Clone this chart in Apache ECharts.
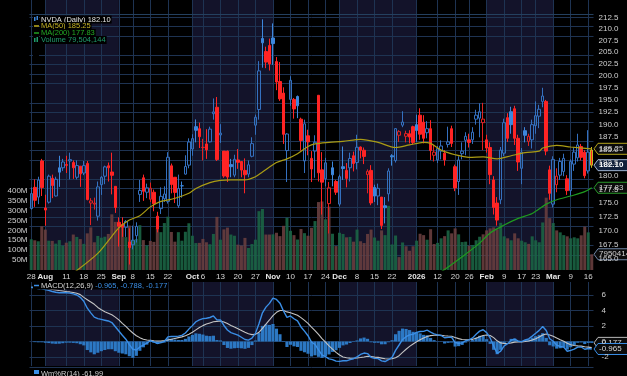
<!DOCTYPE html>
<html><head><meta charset="utf-8">
<script src="https://cdn.jsdelivr.net/npm/echarts@6/dist/echarts.min.js"></script>
<style>html,body{margin:0;padding:0;background:#000;}#c{width:627px;height:376px;}</style>
</head><body><div id="c"></div>
<script>
// ---------- DATA ----------
const tradingMonths = [
 ['2025-07', [28,29,30,31]],
 ['2025-08', [1,4,5,6,7,8,11,12,13,14,15,18,19,20,21,22,25,26,27,28,29]],
 ['2025-09', [2,3,4,5,8,9,10,11,12,15,16,17,18,19,22,23,24,25,26,29,30]],
 ['2025-10', [1,2,3,6,7,8,9,10,13,14,15,16,17,20,21,22,23,24,27,28,29,30,31]],
 ['2025-11', [3,4,5,6,7,10,11,12,13,14,17,18,19,20,21,24,25,26,28]],
 ['2025-12', [1,2,3,4,5,8,9,10,11,12,15,16,17,18,19,22,23,24,26,29,30,31]],
 ['2026-01', [2,5,6,7,8,9,12,13,14,15,16,20,21,22,23,26,27,28,29,30]],
 ['2026-02', [2,3,4,5,6,9,10,11,12,13,17,18,19,20,23,24,25,26,27]],
 ['2026-03', [2,3,4,5,6,9,10,11,12,13,16,17]]
];
const dateTicks = [['2025-07-28','28'],['2025-08-01','Aug'],['2025-08-11','11'],['2025-08-18','18'],['2025-08-25','25'],['2025-09-02','Sep'],['2025-09-08','8'],['2025-09-15','15'],['2025-09-22','22'],['2025-10-01','Oct'],['2025-10-06','6'],['2025-10-13','13'],['2025-10-20','20'],['2025-10-27','27'],['2025-11-03','Nov'],['2025-11-10','10'],['2025-11-17','17'],['2025-11-24','24'],['2025-12-01','Dec'],['2025-12-08','8'],['2025-12-15','15'],['2025-12-22','22'],['2026-01-02','2026'],['2026-01-12','12'],['2026-01-20','20'],['2026-01-26','26'],['2026-02-02','Feb'],['2026-02-09','9'],['2026-02-17','17'],['2026-02-23','23'],['2026-03-02','Mar'],['2026-03-09','9'],['2026-03-16','16']];
const shadedMonths = [['2025-08-01','2025-09-02'],['2025-10-01','2025-11-03'],['2025-12-01','2026-01-02'],['2026-02-02','2026-03-02']];
const priceTicks = [165,167.5,170,172.5,175,177.5,180,182.5,185,187.5,190,192.5,195,197.5,200,202.5,205,207.5,210,212.5];
const volumeTicks = [50,100,150,200,250,300,350,400];
const macdTicks = [-2,0,2,4,6];

const open = [174.0,177.9,176.1,182.9,174.09,175.16,179.6,176.3,181.6,181.6,182.2,182.9,182.6,179.8,181.9,180.6,182.43,175.0,174.8,172.6,178.4,180.0,181.98,180.8,178.1,171.5,171.1,170.6,168.0,167.5,169.1,176.6,179.7,177.0,175.7,177.0,172.6,173.98,175.8,175.3,181.97,179.8,174.5,178.2,180.4,182.1,185.2,189.6,189.2,185.5,186.2,186.6,192.2,193.5,187.97,184.8,184.8,182.2,180.2,183.1,182.8,181.1,180.4,183.8,189.9,193.05,207.98,205.15,206.45,208.08,203.0,198.8,196.4,184.9,195.1,195.1,195.7,191.1,182.9,187.8,183.4,184.8,195.95,181.2,179.5,174.9,181.6,179.0,174.8,181.8,181.1,181.6,183.9,182.6,185.6,184.97,180.3,181.1,177.9,176.3,176.1,174.5,176.7,183.9,182.97,187.9,189.9,187.7,188.2,189.6,190.0,191.9,190.5,188.4,189.2,184.0,183.1,184.8,184.4,186.1,189.2,181.8,179.0,184.3,186.9,187.0,187.0,191.1,191.3,190.4,187.0,185.5,179.3,175.0,175.6,184.4,191.4,192.6,193.2,187.3,181.5,188.8,186.7,187.0,189.8,191.7,194.7,194.7,181.2,174.8,178.4,180.2,180.9,179.5,177.3,182.3,183.5,185.7,184.6,181.0,185.0];
const close = [176.75,175.51,179.27,177.87,173.72,180.00,178.26,179.42,180.77,182.70,182.06,183.16,181.59,182.02,180.45,182.01,175.64,175.40,174.98,177.99,179.81,181.77,181.60,180.17,174.18,170.78,170.62,171.66,167.02,168.31,170.76,177.33,177.17,177.82,177.75,174.88,170.29,176.24,176.67,183.61,178.43,176.97,177.69,178.19,181.85,186.58,187.24,188.89,187.62,185.54,185.04,189.11,192.57,183.16,188.32,180.03,179.83,181.81,183.22,182.64,181.16,180.28,182.16,186.26,191.49,201.03,207.04,202.89,202.49,206.88,198.69,195.21,188.08,188.15,199.05,193.16,193.80,186.86,190.17,186.60,181.36,186.52,180.64,178.88,182.55,177.82,180.26,177.00,179.92,181.46,179.59,183.38,182.41,185.55,184.97,183.78,180.93,175.02,176.29,177.72,170.94,174.14,180.99,183.69,189.21,188.61,190.53,188.22,187.54,186.50,188.85,188.1,187.3,189.2,184.9,184.6,185.3,185.8,183.1,186.6,186.3,177.8,183.1,184.8,187.7,186.5,188.5,191.9,192.6,191.1,185.4,180.3,174.2,171.9,185.0,190.4,187.3,190.0,187.3,182.7,184.6,187.9,187.7,190.0,191.8,193.1,195.8,184.8,176.8,183.2,180.0,182.8,183.4,177.3,182.8,184.6,186.0,183.6,180.1,184.6,182.10];
const low = [173.8,174.3,174.8,176.3,170.89,174.9,175.9,176.2,178.0,181.0,180.6,179.4,179.5,179.4,178.0,180.2,175.5,171.0,173.8,171.8,176.5,178.5,179.0,176.6,173.2,167.2,168.9,168.9,164.07,166.7,167.9,175.2,175.4,175.9,175.2,173.5,169.7,173.0,175.2,174.9,176.8,175.0,174.1,176.0,180.3,181.5,183.9,186.5,185.4,183.0,183.3,186.5,191.0,182.9,186.4,179.7,178.9,179.8,179.8,181.4,179.8,176.8,179.8,183.6,188.0,191.0,201.7,201.6,201.1,202.3,197.0,194.8,186.2,178.9,193.8,191.2,191.3,184.9,180.6,184.0,178.9,179.7,179.0,172.9,178.1,169.5,178.1,176.5,174.4,179.3,177.9,179.0,180.9,181.3,183.4,182.3,176.8,174.6,175.2,174.6,170.3,171.3,175.3,182.0,182.6,186.6,189.5,186.5,186.3,186.1,186.6,187.0,186.3,187.3,183.1,182.8,182.5,183.2,182.0,185.5,185.6,177.2,176.5,183.2,184.0,185.5,186.2,190.0,187.5,185.0,184.5,178.5,172.9,170.9,174.8,183.8,186.6,188.2,186.0,181.0,178.5,186.5,185.8,185.3,188.2,189.3,193.5,184.0,175.6,174.2,177.0,179.3,180.0,176.5,176.3,181.0,182.8,183.0,179.6,180.5,181.6];
const high = [177.9,179.4,179.9,183.3,176.54,180.3,180.3,179.9,183.9,183.3,183.9,184.5,183.0,183.0,181.9,182.9,182.9,175.9,176.0,179.0,180.0,182.0,182.6,184.5,178.1,172.4,172.4,171.9,170.4,170.9,171.5,179.3,180.3,178.6,178.8,177.5,173.4,177.9,178.1,184.6,182.4,179.8,180.3,179.0,184.0,187.3,188.1,191.05,190.4,187.2,189.1,189.6,195.3,195.6,190.1,184.8,184.9,183.3,184.1,185.2,182.8,183.4,183.0,187.5,192.0,203.1,212.2,206.2,207.95,211.3,203.97,202.9,197.6,188.3,199.9,195.4,195.9,191.4,191.0,189.0,184.8,187.9,196.0,184.6,183.5,178.9,182.8,179.3,180.3,185.7,182.5,184.5,184.7,188.0,185.7,185.5,181.3,182.1,178.4,178.6,176.1,176.1,181.5,184.2,189.3,188.9,192.7,188.8,188.9,189.8,192.0,193.3,191.9,190.7,190.9,186.0,185.8,186.9,185.0,189.6,189.8,182.2,183.8,186.5,188.5,188.2,189.5,193.0,194.3,194.4,188.0,186.5,180.0,176.1,185.6,191.2,192.3,193.6,193.8,188.0,185.4,189.5,188.2,191.0,194.7,194.0,197.5,195.0,182.0,183.8,181.5,183.5,184.3,180.2,183.2,185.5,188.2,186.2,185.0,188.9,185.6];
// volume in millions
const volume = [155,150,145,221,204,148,147,133,151,123,138,145,179,167,156,132,185,215,140,172,163,168,182,281,243,231,223,166,224,151,157,226,151,124,147,142,211,191,237,269,192,143,191,148,193,236,173,136,137,157,140,130,182,268,153,205,214,179,173,128,124,162,111,131,153,297,308,179,179,180,188,171,223,264,198,176,154,207,186,173,213,247,343,346,256,320,183,121,188,182,165,167,143,204,145,136,182,204,164,148,200,176,324,129,174,65,139,120,97,120,148,183,176,153,206,131,137,160,171,200,185,210,180,141,143,123,126,150,168,180,200,210,215,205,238,170,160,150,185,160,148,140,132,170,150,140,240,365,262,237,200,190,176,170,160,165,160,175,219,190,79.504144];
// moving averages read at sample days [dayIndex, value]
const ma50Samples = [[12,162.6],[19,166.0],[23,169.0],[25,170.5],[28,171.9],[31,172.7],[34,174.3],[37,175.3],[40,175.7],[43,176.3],[45,176.8],[47,177.7],[51,178.8],[54,179.2],[57,179.3],[61,179.3],[64,179.9],[66,180.8],[70,182.6],[73,183.3],[76,184.3],[79,185.7],[81,186.2],[85,186.5],[89,186.7],[94,187.1],[99,186.5],[104,185.5],[108,186.0],[112,186.5],[114,186.3],[117,185.0],[121,184.1],[125,183.6],[129,183.7],[133,183.3],[137,183.9],[141,184.5],[145,184.8],[146,185.4],[150,185.9],[154,185.6],[160,185.25]];
const ma200Samples = [[116,162.5],[118,163.2],[123,165.4],[128,167.8],[131,169.6],[135,171.0],[139,172.2],[143,173.1],[147,174.8],[150,175.6],[154,176.3],[158,177.1],[160,177.83]];
const macdLine = [7.0,6.9,6.85,6.8,6.7,6.6,6.45,6.35,6.3,6.3,6.3,6.25,6.15,6.0,5.7,5.2,4.3,3.7,3.15,2.95,2.85,2.75,2.65,2.45,1.9,1.35,0.8,0.3,-0.4,-1.0,-1.1,-0.7,-0.45,-0.2,0.1,-0.05,-0.25,-0.15,0.0,0.6,0.65,0.65,0.7,0.8,1.1,1.6,2.05,2.55,2.8,2.95,3.0,3.1,3.3,
 2.79,2.78,2.07,1.48,1.15,0.99,0.82,0.55,0.26,0.18,0.43,1.05,2.29,3.71,4.44,4.92,5.61,5.43,4.95,3.94,3.11,3.30,2.94,2.67,1.88,1.34,0.75,-0.08,-0.37,-1.07,-1.74,-1.96,-2.24,-2.33,-2.53,-2.56,-2.49,-2.49,-2.33,-2.22,-1.99,-1.67,-1.49,-1.56,-2.04,-2.17,-2.21,-2.50,-2.58,-2.35,-2.05,-1.15,-0.45,0.26,0.62,0.85,0.93,1.17,1.29,1.31,1.46,1.22,0.99,0.85,0.78,0.49,0.54,0.55,-0.13,-0.23,-0.18,0.10,0.22,0.47,0.93,1.34,1.52,1.15,0.46,-0.57,-1.55,-1.25,-0.57,-0.28,0.16,0.30,0.04,-0.02,0.20,0.35,0.70,1.06,1.44,1.93,1.42,0.36,0.04,-0.47,-0.64,-0.72,-1.26,-1.15,-0.98,-0.72,-0.71,-1.0,-0.9,-0.965];
const signalLine = [7.0,6.98,6.95,6.9,6.86,6.8,6.72,6.65,6.58,6.52,6.45,6.4,6.33,6.22,6.05,5.7,5.4,5.1,4.8,4.4,4.1,3.85,3.65,3.45,3.15,2.8,2.35,1.95,1.5,1.1,0.75,0.5,0.3,0.2,0.15,0.1,0.06,0.06,0.12,0.2,0.3,0.4,0.5,0.6,0.75,0.95,1.2,1.5,1.8,2.05,2.25,2.4,2.55,
 2.60,2.64,2.52,2.31,2.08,1.86,1.65,1.43,1.20,1.00,0.89,0.92,1.19,1.69,2.24,2.78,3.35,3.77,4.01,4.00,3.82,3.72,3.56,3.38,3.08,2.73,2.33,1.85,1.41,0.91,0.38,-0.09,-0.57,-0.99,-1.40,-1.74,-1.99,-2.10,-2.14,-2.16,-2.13,-2.07,-2.00,-1.91,-1.94,-2.01,-2.05,-2.14,-2.23,-2.26,-2.22,-2.09,-1.83,-1.41,-1.00,-0.63,-0.32,-0.02,0.24,0.45,0.65,0.76,0.81,0.82,0.81,0.75,0.71,0.68,0.52,0.37,0.26,0.23,0.23,0.28,0.41,0.60,0.78,0.85,0.77,0.50,0.09,-0.18,-0.26,-0.26,-0.18,-0.08,-0.06,-0.05,0.00,0.07,0.20,0.37,0.58,0.85,0.96,0.84,0.68,0.45,0.23,0.04,-0.22,-0.41,-0.52,-0.56,-0.59,-0.67,-0.72,-0.788];

// ---------- BUILD ----------
const categories = [];
tradingMonths.forEach(([m, days]) => days.forEach(d => categories.push(m + '-' + String(d).padStart(2, '0'))));
const N = categories.length;
const ln = Math.log;
const tickMap = new Map(dateTicks);
const BLUE = '#3d87dc', BLUE_H = '#3470bf', RED = '#ff2424', RED_H = '#e02222';
const GRIDC = '#1e3352';
const FONT = 'Liberation Sans';

const candles = categories.map((d, i) => {
  const prev = i > 0 ? close[i - 1] : open[i];
  const up = close[i] >= prev;
  const hollow = close[i] > open[i];
  const col = up ? (hollow ? BLUE_H : BLUE) : (hollow ? RED_H : RED);
  const fill = hollow ? 'rgba(0,0,0,0)' : (up ? BLUE : RED);
  const border = i === N - 1 ? '#c9b820' : col;
  return { value: [ln(open[i]), ln(close[i]), ln(low[i]), ln(high[i])],
    itemStyle: { color: fill, color0: fill, borderColor: border, borderColor0: border, borderWidth: 1 } };
});
const volData = volume.map((v, i) => {
  const prev = i > 0 ? close[i - 1] : open[i];
  return { value: v * 1e6, itemStyle: { color: close[i] >= prev ? 'rgba(27,100,68,0.9)' : 'rgba(104,62,62,0.9)' } };
});
function sampled(samples) {
  const a = new Array(N).fill(null);
  samples.forEach(([i, v]) => { a[i] = ln(v); });
  return a;
}
const hist = macdLine.map((m, i) => +(m - signalLine[i]).toFixed(3));
const empty = new Array(N).fill(null);

const bandAreas = shadedMonths.map(([a, b]) => [{ xAxis: a }, { xAxis: b }]);
const weekLines = dateTicks.map(t => ({ xAxis: t[0] }));
function helperSeries(xi, yi, hValues) {
  return [
    { type: 'line', xAxisIndex: xi, yAxisIndex: yi, data: empty, z: 0, silent: true, showSymbol: false,
      markArea: { silent: true, z: 0, itemStyle: { color: '#13132a' }, data: bandAreas } },
    { type: 'line', xAxisIndex: xi, yAxisIndex: yi, data: empty, z: 1, silent: true, showSymbol: false,
      markLine: { silent: true, z: 1, symbol: ['none', 'none'], label: { show: false }, animation: false,
        lineStyle: { color: GRIDC, width: 1, type: 'solid' },
        data: weekLines.concat(hValues.map(v => ({ yAxis: v }))) } }
  ];
}

const chart = echarts.init(document.getElementById('c'), null, { renderer: 'canvas' });
const labelStyle = { color: '#cfcfcf', fontSize: 8, fontFamily: FONT };
const option = {
  backgroundColor: '#000',
  animation: false,
  grid: [
    { left: 29.5, right: 33.5, top: 0, height: 270 },
    { left: 29.5, right: 33.5, top: 282, height: 84 }
  ],
  xAxis: [
    { type: 'category', gridIndex: 0, data: categories, boundaryGap: true,
      axisLine: { show: false }, axisTick: { show: false }, splitLine: { show: false },
      axisLabel: { interval: (idx, val) => tickMap.has(val), margin: 3, color: '#d6d6d6', fontSize: 8, fontFamily: FONT,
        formatter: v => { const t = tickMap.get(v) || ''; return /^[A-Z]|2026/.test(t) ? '{b|' + t + '}' : t; },
        rich: { b: { fontWeight: 'bold', color: '#e6e6e6', fontSize: 8, fontFamily: FONT } } } },
    { type: 'category', gridIndex: 1, data: categories, boundaryGap: true,
      axisLine: { show: false }, axisTick: { show: false }, axisLabel: { show: false }, splitLine: { show: false } }
  ],
  yAxis: [
    { type: 'value', gridIndex: 0, position: 'right', z: 1, min: ln(163.13), max: ln(216.55),
      axisLine: { show: false },
      axisTick: { show: false, customValues: priceTicks.map(ln) },
      axisLabel: Object.assign({ customValues: priceTicks.map(ln), margin: 5, formatter: v => Math.exp(v).toFixed(1) }, labelStyle),
      splitLine: { show: false } },
    { type: 'value', gridIndex: 0, position: 'left', z: 1, min: 0, max: 1363e6,
      axisLine: { show: false },
      axisTick: { show: false, customValues: volumeTicks.map(v => v * 1e6) },
      axisLabel: Object.assign({ customValues: volumeTicks.map(v => v * 1e6), margin: 2, formatter: v => Math.round(v / 1e6) + 'M' }, labelStyle),
      splitLine: { show: false } },
    { type: 'value', gridIndex: 1, position: 'right', z: 1, min: -3.16, max: 7.68,
      axisLine: { show: false },
      axisTick: { show: false, customValues: macdTicks },
      axisLabel: Object.assign({ customValues: macdTicks, margin: 8 }, labelStyle),
      splitLine: { show: false } }
  ],
  series: [
    ...helperSeries(0, 0, priceTicks.map(ln)),
    ...helperSeries(1, 2, macdTicks),
    { type: 'bar', xAxisIndex: 0, yAxisIndex: 1, data: volData, barWidth: '86%', z: 2 },
    { type: 'candlestick', xAxisIndex: 0, yAxisIndex: 0, data: candles, barWidth: 3, z: 3 },
    { type: 'line', xAxisIndex: 0, yAxisIndex: 0, data: sampled(ma50Samples), connectNulls: true, showSymbol: false, smooth: 0.3,
      lineStyle: { color: '#aa9c14', width: 1.2 }, z: 4 },
    { type: 'line', xAxisIndex: 0, yAxisIndex: 0, data: sampled(ma200Samples), connectNulls: true, showSymbol: false, smooth: 0.3,
      lineStyle: { color: '#1f9b1f', width: 1.2 }, z: 4 },
    { type: 'bar', xAxisIndex: 1, yAxisIndex: 2, data: hist, barCategoryGap: '10%', itemStyle: { color: '#2c78c4' }, z: 2 },
    { type: 'line', xAxisIndex: 1, yAxisIndex: 2, data: signalLine, showSymbol: false, lineStyle: { color: '#c4c4c4', width: 1.1 }, z: 4 },
    { type: 'line', xAxisIndex: 1, yAxisIndex: 2, data: macdLine, showSymbol: false, lineStyle: { color: '#3a8ee6', width: 1.4 }, z: 5 }
  ]
};
chart.setOption(option);

// ---------- overlays: legends and last-value tags ----------
const lastClose = close[N - 1];
const lastMa50 = ma50Samples[ma50Samples.length - 1][1];
const lastMa200 = ma200Samples[ma200Samples.length - 1][1];
const lastVol = Math.round(volume[N - 1] * 1e6);
const lastMacd = macdLine[N - 1], lastSig = signalLine[N - 1], lastHist = hist[N - 1];
const px = (axis, v) => chart.convertToPixel({ yAxisIndex: axis }, v);
const tagX = 594;
function tag(y, text, border, color, bold, fill) {
  return { type: 'group', z: 50, children: [
    { type: 'polygon', shape: { points: [[tagX, y], [tagX + 4, y - 5.5], [tagX + 40, y - 5.5], [tagX + 40, y + 5.5], [tagX + 4, y + 5.5]] },
      style: { fill: fill || '#0b0b0b', stroke: border, lineWidth: 1 } },
    { type: 'text', x: tagX + 5, y: y, style: { text: text, fill: color, font: (bold ? 'bold ' : '') + '8px "' + FONT + '"', verticalAlign: 'middle' } }
  ] };
}
function legendText(x, y, rich, text) {
  return { type: 'text', x: x, y: y, z: 40, style: { text: text, rich: rich, font: '7.5px "' + FONT + '"', verticalAlign: 'middle', backgroundColor: '#000', padding: [0, 1, 0, 1] } };
}
const fmt = n => n.toLocaleString('en-US');
const F = '7.5px "' + FONT + '"';
const graphics = [
  { type: 'line', z: 30, shape: { x1: 29.5, y1: 14.5, x2: 593.5, y2: 14.5 }, style: { stroke: '#24405f', lineWidth: 1 } },
  { type: 'rect', z: 40, shape: { x: 33, y: 15, width: 6, height: 43 }, style: { fill: '#000' } },
  { type: 'rect', z: 41, shape: { x: 34, y: 17, width: 1.5, height: 4 }, style: { fill: BLUE } },
  { type: 'rect', z: 41, shape: { x: 36.5, y: 16, width: 1.5, height: 4 }, style: { fill: BLUE } },
  { type: 'line', z: 41, shape: { x1: 34, y1: 26, x2: 39, y2: 26 }, style: { stroke: '#c0b020', lineWidth: 1.5 } },
  { type: 'line', z: 41, shape: { x1: 34, y1: 33, x2: 39, y2: 33 }, style: { stroke: '#22a022', lineWidth: 1.5 } },
  { type: 'rect', z: 41, shape: { x: 34, y: 38, width: 1.5, height: 4 }, style: { fill: '#1e9a6a' } },
  { type: 'rect', z: 41, shape: { x: 36.5, y: 37, width: 1.5, height: 5 }, style: { fill: '#1e9a6a' } },
  legendText(40, 19.5, { a: { fill: '#e2e2e2', font: F } }, '{a|NVDA (Daily) ' + lastClose.toFixed(2) + '}'),
  legendText(40, 26.3, { a: { fill: '#c6b424', font: F } }, '{a|MA(50) ' + lastMa50.toFixed(2) + '}'),
  legendText(40, 33.1, { a: { fill: '#24a824', font: F } }, '{a|MA(200) ' + lastMa200.toFixed(2) + '}'),
  legendText(40, 39.9, { a: { fill: '#1f9c6c', font: F } }, '{a|Volume ' + fmt(lastVol) + '}'),
  { type: 'rect', z: 40, shape: { x: 33, y: 282, width: 7, height: 7 }, style: { fill: '#000' } },
  { type: 'line', z: 41, shape: { x1: 34, y1: 285.5, x2: 39, y2: 285.5 }, style: { stroke: '#3a8ee6', lineWidth: 1.5 } },
  legendText(40, 285.5, { a: { fill: '#d8d8d8', font: F }, b: { fill: '#3a8ee6', font: F } },
    '{a|MACD(12,26,9)} {b|' + lastMacd.toFixed(3) + ', ' + lastSig.toFixed(3) + ', ' + lastHist.toFixed(3) + '}'),
  { type: 'line', z: 41, shape: { x1: 29.5, y1: 367.5, x2: 593.5, y2: 367.5 }, style: { stroke: GRIDC, lineWidth: 1 } },
  { type: 'rect', z: 41, shape: { x: 34, y: 370, width: 5, height: 4 }, style: { fill: '#3a8ee6' } },
  legendText(40, 373.5, { a: { fill: '#cfcfcf', font: F } }, '{a|Wm%R(14) -61.99}'),
  tag(px(0, ln(lastMa50)), lastMa50.toFixed(2), '#b4a41c', '#d0d0d0', false),
  tag(px(0, ln(lastMa200)), lastMa200.toFixed(2), '#2a9a2a', '#d0d0d0', false),
  tag(px(0, ln(lastClose)), lastClose.toFixed(2), '#9db2d0', '#ffffff', true, '#12203a'),
  tag(px(1, volume[N - 1] * 1e6), String(lastVol), '#6f86a6', '#d0d0d0', false),
  tag(px(2, lastHist), lastHist.toFixed(3), '#b8b8b8', '#d8d8d8', false),
  tag(px(2, lastMacd), lastMacd.toFixed(3), '#3a8ee6', '#d8d8d8', false)
];
chart.setOption({ graphic: graphics });
</script>
</body></html>
